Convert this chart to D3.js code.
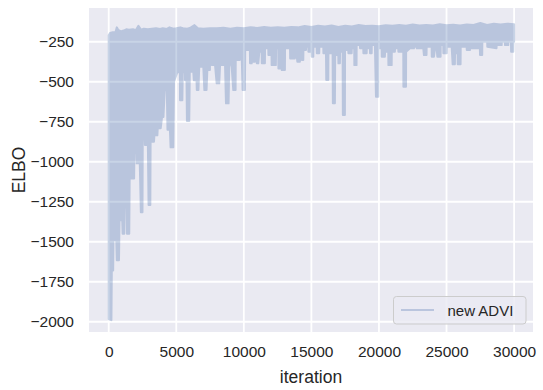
<!DOCTYPE html>
<meta charset="utf-8">
<style>
  body { margin: 0; background: #fff; }
  text { font-family: "Liberation Sans", Arial, sans-serif; fill: #262626; }
</style>

<!-- Load d3.js -->
<script src="https://d3js.org/d3.v7.min.js"></script>

<!-- Create a div where the graph will take place -->
<div id="my_dataviz"></div>

<script>

// tick labels
var xTicks = [0, 5000, 10000, 15000, 20000, 25000, 30000];
var yTicks = [-2000, -1750, -1500, -1250, -1000, -750, -500, -250];

// upper edge of the noisy ELBO trace: [iteration, elbo]
var elboHigh = [
  [0, -210], [100, -195], [300, -190], [500, -190], [600, -160], [700, -175],
  [900, -185], [1100, -180], [1300, -172], [1500, -175], [1800, -172], [2000, -178],
  [2200, -150], [2400, -175], [2600, -168], [2900, -172], [3200, -168], [3500, -165],
  [3800, -170], [4000, -165], [4300, -170], [4500, -160], [4800, -168], [5000, -166],
  [5300, -160], [5500, -165], [5800, -168], [6000, -164], [6350, -146], [6600, -166],
  [7000, -168], [7500, -165], [8000, -166], [8500, -163], [9000, -168], [9500, -162],
  [10000, -165], [10500, -160], [11000, -164], [11500, -158], [12000, -163], [12500, -160],
  [13000, -162], [13500, -158], [14000, -160], [14500, -152], [15000, -158], [15500, -150],
  [16000, -155], [16500, -148], [17000, -157], [17500, -150], [18000, -154], [18500, -145],
  [19000, -152], [19500, -150], [20000, -153], [20500, -147], [21000, -150], [21500, -146],
  [22000, -150], [22500, -142], [23000, -148], [23500, -145], [24000, -148], [24500, -140],
  [25000, -147], [25500, -143], [26000, -148], [26500, -142], [27000, -145], [27500, -133],
  [28000, -145], [28500, -138], [29000, -142], [29500, -137], [30000, -140]
];

// lower edge of the trace, including the downward spikes: [iteration, elbo]
var elboLow = [
  [0, -1985], [200, -1990], [230, -1680], [330, -1680], [350, -1490], [560, -1490],
  [600, -1615], [760, -1615], [800, -1365], [1000, -1365], [1030, -1450], [1150, -1450],
  [1180, -1285], [1330, -1285], [1350, -1450], [1520, -1450], [1550, -1105], [1880, -1105],
  [1900, -945], [2050, -945], [2070, -1010], [2300, -1010], [2380, -1315], [2500, -1315],
  [2520, -820], [2650, -820], [2680, -895], [2900, -895], [2950, -1270], [3080, -1270],
  [3100, -875], [3350, -875], [3380, -835], [3600, -835], [3630, -790], [3850, -790],
  [3950, -720], [4050, -720], [4150, -550], [4300, -550], [4350, -800], [4530, -800],
  [4580, -910], [4780, -910], [4830, -500], [5080, -440], [5270, -440], [5280, -615],
  [5450, -615], [5480, -440], [5640, -440], [5650, -490], [5760, -490], [5790, -745],
  [5960, -745], [6000, -437], [6260, -437], [6300, -490], [6500, -490], [6520, -552],
  [6640, -552], [6700, -406], [7000, -406], [7080, -552], [7240, -552], [7300, -427],
  [7490, -427], [7500, -333], [7620, -333], [7640, -396], [7870, -396], [7990, -510],
  [8180, -510], [8240, -396], [8480, -396], [8500, -364], [8600, -364], [8680, -635],
  [8870, -635], [8930, -354], [9100, -406], [9220, -552], [9390, -552], [9400, -364],
  [9700, -364], [9720, -333], [9840, -333], [9910, -552], [10080, -552], [10100, -302],
  [10450, -302], [10460, -385], [10580, -385], [10600, -375], [10820, -375], [10830, -312],
  [10950, -312], [10960, -385], [11070, -385], [11150, -312], [11320, -312], [11330, -385],
  [11560, -385], [11570, -291], [11810, -291], [11820, -333], [12050, -333], [12060, -396],
  [12370, -396], [12390, -291], [12550, -291], [12560, -417], [12800, -417], [12810, -427],
  [13040, -427], [13050, -291], [13420, -291], [13430, -354], [13780, -354], [13790, -333],
  [13910, -333], [13960, -375], [14150, -375], [14160, -333], [14280, -333], [14290, -364],
  [14400, -364], [14410, -302], [14600, -302], [14610, -281], [14770, -281], [14780, -312],
  [15020, -312], [15030, -343], [15140, -343], [15150, -281], [15390, -281], [15400, -322],
  [15580, -322], [15590, -281], [15880, -281], [15890, -322], [16080, -322], [16100, -489],
  [16250, -489], [16260, -322], [16570, -322], [16590, -635], [16740, -635], [16760, -333],
  [16990, -333], [17000, -385], [17110, -385], [17120, -312], [17310, -312], [17330, -708],
  [17480, -708], [17490, -302], [17730, -302], [17740, -322], [17980, -322], [17990, -291],
  [18170, -291], [18180, -396], [18340, -396], [18350, -271], [18590, -271], [18600, -291],
  [18840, -291], [18850, -322], [19090, -322], [19100, -291], [19330, -291], [19340, -322],
  [19460, -322], [19470, -271], [19700, -271], [19780, -594], [19950, -594], [19960, -291],
  [20200, -291], [20210, -343], [20440, -343], [20450, -312], [20690, -312], [20700, -396],
  [20940, -396], [20950, -312], [21180, -312], [21190, -291], [21430, -291], [21440, -312],
  [21800, -312], [21810, -531], [22000, -531], [22010, -312], [22300, -291], [22590, -291],
  [22600, -281], [22790, -281], [22800, -291], [23280, -291], [23330, -333], [23520, -333],
  [23530, -281], [23900, -281], [23910, -343], [24070, -343], [24150, -291], [24270, -291],
  [24320, -343], [24560, -343], [24570, -271], [24760, -271], [24770, -322], [25010, -322],
  [25020, -281], [25380, -281], [25455, -391], [25620, -391], [25630, -322], [25820, -322],
  [25830, -391], [26040, -391], [26050, -281], [26490, -281], [26500, -302], [26730, -302],
  [26740, -291], [27470, -291], [27480, -333], [27640, -333], [27650, -250], [28010, -250],
  [28020, -281], [28700, -291], [28710, -271], [29080, -271], [29090, -250], [29320, -250],
  [29330, -271], [29570, -271], [29580, -250], [29770, -250], [29780, -312], [29940, -312],
  [29950, -250], [30000, -250]
];

var seriesName = "new ADVI";

// set the dimensions and margins of the graph
var W = 543, H = 390;
var margin = {top: 8, right: 10, bottom: 58, left: 89},
    width = W - margin.left - margin.right,
    height = H - margin.top - margin.bottom;

var svg = d3.select("#my_dataviz")
  .append("svg")
    .attr("width", W)
    .attr("height", H);

var g = svg.append("g")
    .attr("transform", "translate(" + margin.left + "," + margin.top + ")");

var x = d3.scaleLinear()
  .domain([-1458, 31400])
  .range([0, width]);

var y = d3.scaleLinear()
  .domain([-2064, -39])
  .range([height, 0]);

// background
g.append("rect")
  .attr("width", width)
  .attr("height", height)
  .attr("fill", "#EAEAF2");

// grid lines
g.append("g")
  .selectAll("line")
  .data(xTicks)
  .enter()
  .append("line")
    .attr("x1", function(d) { return x(d); })
    .attr("x2", function(d) { return x(d); })
    .attr("y1", 0)
    .attr("y2", height)
    .attr("stroke", "#fff")
    .attr("stroke-width", 1.8);

g.append("g")
  .selectAll("line")
  .data(yTicks)
  .enter()
  .append("line")
    .attr("x1", 0)
    .attr("x2", width)
    .attr("y1", function(d) { return y(d); })
    .attr("y2", function(d) { return y(d); })
    .attr("stroke", "#fff")
    .attr("stroke-width", 1.8);

// the trace: upper edge left to right, then lower edge back
var outline = elboHigh.concat(elboLow.slice().reverse());

var line = d3.line()
  .x(function(d) { return x(d[0]); })
  .y(function(d) { return y(d[1]); });

g.append("g")
    .attr("opacity", 0.3)
  .append("path")
    .attr("d", line(outline) + "Z")
    .attr("fill", "#4C72B0")
    .attr("stroke", "#4C72B0")
    .attr("stroke-width", 2)
    .attr("stroke-linejoin", "round");

// axes (no domain line, no tick marks - seaborn darkgrid)
var xAxis = g.append("g")
  .attr("transform", "translate(0," + height + ")")
  .call(d3.axisBottom(x).tickValues(xTicks).tickSize(0).tickPadding(14)
    .tickFormat(d3.format("d")));
xAxis.select(".domain").remove();
xAxis.selectAll("text")
  .style("font-size", "15.5px")
  .style("font-family", "'Liberation Sans', Arial, sans-serif")
  .attr("fill", "#262626");

var yAxis = g.append("g")
  .call(d3.axisLeft(y).tickValues(yTicks).tickSize(0).tickPadding(15)
    .tickFormat(function(d) { return "\u2212" + Math.abs(d); }));
yAxis.select(".domain").remove();
yAxis.selectAll("text")
  .style("font-size", "15.5px")
  .style("font-family", "'Liberation Sans', Arial, sans-serif")
  .attr("fill", "#262626");

// axis labels
svg.append("text")
  .attr("x", margin.left + width / 2)
  .attr("y", 383)
  .style("text-anchor", "middle")
  .style("font-size", "17.5px")
  .text("iteration");

svg.append("text")
  .attr("transform", "translate(25," + (margin.top + height / 2) + ") rotate(-90)")
  .style("text-anchor", "middle")
  .style("font-size", "17.5px")
  .text("ELBO");

// legend
var leg = svg.append("g");
leg.append("rect")
  .attr("x", 393.5)
  .attr("y", 296.5)
  .attr("width", 132.5)
  .attr("height", 27.5)
  .attr("rx", 3)
  .attr("fill", "#EAEAF2")
  .attr("fill-opacity", 0.8)
  .attr("stroke", "#CCCCCC")
  .attr("stroke-width", 1);
leg.append("line")
  .attr("x1", 401)
  .attr("x2", 434)
  .attr("y1", 310)
  .attr("y2", 310)
  .attr("stroke", "#4C72B0")
  .attr("stroke-opacity", 0.3)
  .attr("stroke-width", 2);
leg.append("text")
  .attr("x", 447.5)
  .attr("y", 315.5)
  .style("font-size", "15px")
  .text(seriesName);

</script>
